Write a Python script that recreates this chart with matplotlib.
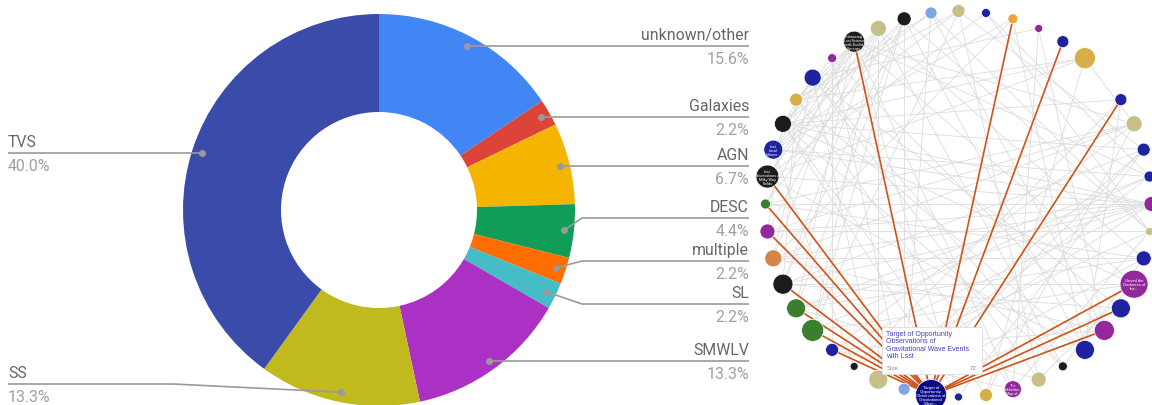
import numpy as np
import matplotlib
matplotlib.use('agg')
import matplotlib.pyplot as plt
from matplotlib.patches import Circle, Rectangle

# ---- donut data (clockwise from 12 o'clock) ----
categories = ["unknown/other", "Galaxies", "AGN", "DESC", "multiple",
              "SL", "SMWLV", "SS", "TVS"]
shares = [15.6, 2.2, 6.7, 4.4, 2.2, 2.2, 13.3, 13.3, 40.0]
slice_colors = ["#4285f4", "#db4437", "#f4b400", "#0f9d58", "#ff6d00",
                "#46bdc6", "#ab30c4", "#c1ba1f", "#3a4baa"]
# labels that Google Charts pushed away from their slice (pixel y of leader)
label_y_moved = {"DESC": 219, "multiple": 262, "SL": 305, "SS": 385}

# ---- network data: slot index on the ring, colour group, radius (px) ----
node_slot = [0, 1, 2, 3, 4, 5, 7, 8, 9, 10, 11, 12, 13, 14, 15, 16, 17, 18,
             19, 20, 21, 22, 23, 24, 25, 26, 27, 28, 29, 30, 31, 32, 33, 34,
             35, 36, 37, 38, 39, 40, 41, 42, 43]
node_group = ["khaki", "navy", "orange", "purple", "navy", "gold", "navy",
              "khaki", "navy", "navy", "purple", "khaki", "navy", "purple",
              "navy", "purple", "navy", "black", "khaki", "purple", "gold",
              "navy", "hub", "lblue", "khaki", "black", "navy", "green",
              "green", "black", "brown", "purple", "green", "black", "navy",
              "black", "gold", "navy", "purple", "black", "khaki", "black",
              "lblue"]
node_size = [6.5, 4.5, 5, 4, 6, 10.5, 6, 8, 6.5, 5.5, 7.5, 4, 7.5, 14, 9.5,
             10, 9.5, 4.5, 7.5, 8.5, 6.5, 4, 15.5, 6, 9.5, 4, 6.5, 11, 9.5,
             10, 8.5, 7.5, 5, 11.5, 9.5, 8.5, 6.5, 8.5, 4.5, 10.5, 8, 7, 6]
node_text = {23: "Target of\nOpportunity\nObservations of\nGravitational\nWave...",
             14: "Unveil the\nDarkness of\nthe...",
             40: "Enhancing\nLsst Science\nwith Euclid\nSynergy",
             34: "Lsst\nObservations of\nMilky Way\nFields",
             35: "Lsst\nLocal\nVolume...",
             20: "The\nDefinitive\nMap of..."}
group_colors = {"khaki": "#c6bf88", "navy": "#1f23a0", "orange": "#e9a83c",
                "purple": "#93289e", "gold": "#d7ae48", "black": "#1c1c1c",
                "hub": "#0b0b86", "lblue": "#7fa6e2", "green": "#3b7f2e",
                "brown": "#d3854a"}
hub = 23
hub_links = [2, 4, 7, 14, 15, 16, 40, 34, 33, 32, 30, 29, 28, 27]
gray_links = [
    (40, 37), (40, 36), (40, 35), (40, 34), (40, 33), (40, 31), (40, 29),
    (40, 22), (40, 20), (40, 14), (40, 10),
    (41, 25), (41, 36), (41, 34), (41, 32), (41, 30), (41, 18), (41, 13),
    (42, 35), (42, 33), (42, 30), (42, 28), (42, 24), (42, 17), (42, 12),
    (43, 24), (43, 37), (43, 36), (43, 12), (43, 16),
    (0, 19), (0, 37), (0, 35), (0, 9), (0, 28),
    (1, 10), (1, 12), (1, 34), (2, 35), (2, 17), (2, 31),
    (3, 20), (3, 16), (3, 38), (5, 37), (5, 21), (5, 8), (5, 34), (5, 36),
    (7, 17), (7, 36), (7, 26), (8, 33), (8, 27), (8, 31), (8, 40),
    (9, 36), (9, 30), (9, 24), (10, 35), (10, 28), (10, 25),
    (11, 34), (11, 33), (11, 32), (11, 31), (11, 30), (11, 29), (11, 27),
    (11, 35), (11, 36), (11, 25), (12, 32), (12, 20), (13, 33), (13, 29),
    (13, 18), (14, 30), (14, 19), (14, 36), (15, 38), (15, 24), (16, 39),
    (16, 31), (17, 37), (17, 34), (18, 38), (18, 36), (19, 38), (19, 29),
    (20, 37), (20, 27), (21, 36), (21, 8), (24, 39), (24, 13), (25, 38),
    (25, 9), (26, 35), (26, 12), (27, 39), (27, 16), (28, 41), (28, 14),
    (29, 42), (29, 10), (30, 37), (30, 15), (31, 38), (31, 13), (32, 36),
    (32, 8), (35, 38), (36, 38), (37, 39), (22, 36), (22, 9)]
tip_title = "Target of Opportunity\nObservations of\nGravitational Wave Events\nwith Lsst"
tip_size = 72

W, H = 1152, 406
fig = plt.figure(figsize=(W / 100, H / 100), dpi=100)

# donut: centre (379, 211) px, radius 196 px
pcx, pcy, pr = 379, 211, 196
ax = fig.add_axes([(pcx - pr) / W, (H - pcy - pr) / H, 2 * pr / W, 2 * pr / H])
wedges, _ = ax.pie(shares, colors=slice_colors, startangle=90, counterclock=False,
                   radius=1, wedgeprops=dict(width=0.5, linewidth=0))
ax.set_xlim(-1, 1)
ax.set_ylim(-1, 1)

ov = fig.add_axes([0, 0, 1, 1])
ov.set_xlim(0, W)
ov.set_ylim(H, 0)
ov.axis('off')

name_col, pct_col, line_col = "#666666", "#a0a0a0", "#9a9a9a"
for w, cat, val in zip(wedges, categories, shares):
    a = np.deg2rad((w.theta1 + w.theta2) / 2)
    disp = ax.transData.transform((0.95 * np.cos(a), 0.95 * np.sin(a)))
    dx, dy = ov.transData.inverted().transform(disp)
    ly = label_y_moved.get(cat, dy)
    if np.cos(a) > 0:
        xe, xb, ha = 749, 582, 'right'
    else:
        xe, xb, ha = 8, 173, 'left'
    if cat in label_y_moved:
        xs, ys = [dx, xb, xe], [dy, ly, ly]
    else:
        xs, ys = [dx, xe], [dy, ly]
    ov.plot(xs, ys, color=line_col, lw=1.2, solid_capstyle='butt', zorder=3)
    ov.plot(dx, dy, 'o', ms=4, color=line_col, zorder=4)
    ov.text(xe, ly - 4, cat, ha=ha, va='bottom', fontsize=11.4,
            family='Roboto', color=name_col)
    ov.text(xe, ly + 5, "%.1f%%" % val, ha=ha, va='top', fontsize=11.4,
            family='Roboto', color=pct_col)

# network on a ring of 44 slots, centre (958.5, 205), radius 193 px
ncx, ncy, nr, nslots = 958.5, 205, 193, 44
ang = np.deg2rad(np.array(node_slot) * 360.0 / nslots)
nx = ncx + nr * np.sin(ang)
ny = ncy - nr * np.cos(ang)
pos = {s: (x, y) for s, x, y in zip(node_slot, nx, ny)}

for a_, b_ in gray_links:
    ov.plot([pos[a_][0], pos[b_][0]], [pos[a_][1], pos[b_][1]],
            color="#dcdcdc", lw=0.6, zorder=5)
for t in hub_links:
    ov.plot([pos[hub][0], pos[t][0]], [pos[hub][1], pos[t][1]],
            color="#cf5316", lw=1.2, zorder=6)
for s, g, r in zip(node_slot, node_group, node_size):
    ov.add_patch(Circle(pos[s], r, facecolor=group_colors[g],
                        edgecolor="white", lw=0.5, zorder=7))
    if s in node_text:
        ov.text(pos[s][0], pos[s][1], node_text[s], ha='center', va='center',
                fontsize=2.7 if r < 14 else 3.1, color="white",
                family='Liberation Sans', linespacing=1.0, zorder=8)

# tooltip
ov.add_patch(Rectangle((883, 329), 100, 47, facecolor="#000000", alpha=0.08,
                       edgecolor="none", zorder=9))
ov.add_patch(Rectangle((882, 328), 100, 47, facecolor="white",
                       edgecolor="#dddddd", lw=0.6, zorder=10))
ov.text(886, 331, tip_title, ha='left', va='top', fontsize=5.0,
        family='Liberation Sans', color="#4242c4", linespacing=1.1, zorder=11)
ov.text(887, 368.5, "Size", ha='left', va='center', fontsize=4.4,
        family='Liberation Sans', color="#888888", zorder=11)
ov.text(977, 368.5, str(tip_size), ha='right', va='center', fontsize=4.4,
        family='Liberation Sans', color="#888888", zorder=11)

fig.savefig('out.png', dpi=100)
